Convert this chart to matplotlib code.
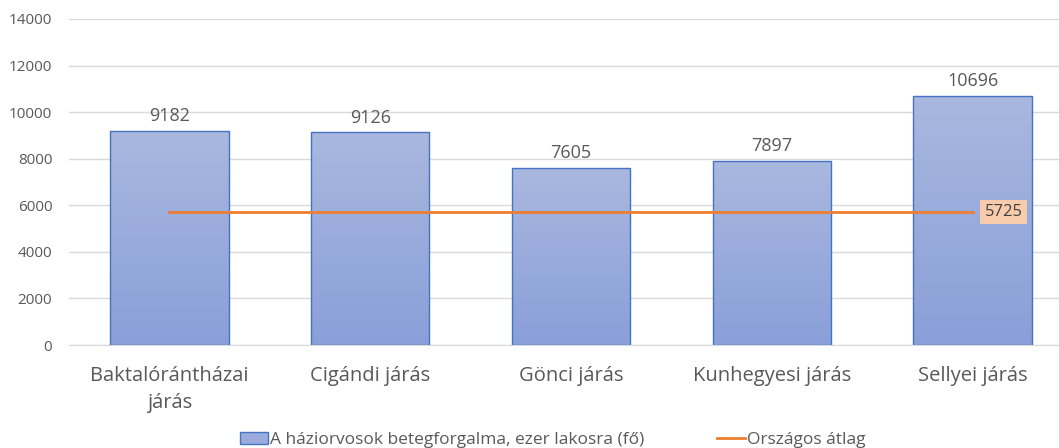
import numpy as np
import matplotlib.pyplot as plt
from matplotlib.patches import Patch
from matplotlib.lines import Line2D
from matplotlib.colors import LinearSegmentedColormap
from matplotlib.transforms import offset_copy

plt.rcParams['font.family'] = ['Open Sans', 'DejaVu Sans']

categories = ['Baktalórántházai\njárás', 'Cigándi járás', 'Gönci járás',
              'Kunhegyesi járás', 'Sellyei járás']
values = [9182, 9126, 7605, 7897, 10696]
avg = 5725
bar_label = 'A háziorvosok betegforgalma, ezer lakosra (fő)'
line_label = 'Országos átlag'

fig = plt.figure(figsize=[10.59, 4.48], dpi=100)
ax = fig.add_axes([69/1059, 1-345/448, (1073-69)/1059, (345-19)/448])

x = np.arange(len(categories))
bars = ax.bar(x, values, width=0.59, color='none', edgecolor='#4472c4', linewidth=1, zorder=3)

# vertical gradient fill inside each bar
grad = np.linspace(0, 1, 256).reshape(-1, 1)
cmap = LinearSegmentedColormap.from_list('g', ['#8a9fd9', '#a9b8df'])
for b in bars:
    im = ax.imshow(grad, cmap=cmap, origin='lower', aspect='auto',
                   extent=[b.get_x(), b.get_x() + b.get_width(), 0, b.get_height()], zorder=2)
    im.set_clip_path(b)

for a, v in zip(x, values):
    ax.text(a, v + 250, '%d' % v, ha='center', va='bottom', fontsize=13, color='#595959')

ax.plot([x[0], x[-1]], [avg, avg], color='#ed7d31', linewidth=2, zorder=4)
tr = offset_copy(ax.transData, fig=fig, x=12, y=0, units='dots')
ax.text(x[-1], avg, str(avg), ha='left', va='center', fontsize=12, color='#404040', zorder=5,
        transform=tr, bbox=dict(boxstyle='square,pad=0.25', fc='#f8cbad', ec='none'))

ax.set_xlim(-0.5, len(categories) - 0.5)
ax.set_ylim(0, 14000)
ax.set_yticks(range(0, 14001, 2000))
ax.set_xticks(x)
ax.set_xticklabels(categories, fontsize=14.5, color='#595959', linespacing=1.45)
ax.tick_params(axis='y', labelsize=11, colors='#595959', length=0, pad=12)
ax.tick_params(axis='x', length=0, pad=15)
ax.grid(axis='y', color='#d9d9d9', linewidth=1, zorder=0)
for s in ['top', 'right', 'left']:
    ax.spines[s].set_visible(False)
ax.spines['bottom'].set_color('#d9d9d9')

handles = [Patch(facecolor='#9aabdc', edgecolor='#4472c4', label=bar_label),
           Line2D([0], [0], color='#ed7d31', linewidth=2, label=line_label)]
fig.legend(handles=handles, loc='lower center', bbox_to_anchor=(0.522, -0.035), ncol=2, frameon=False,
           fontsize=12.5, labelcolor='#595959', handlelength=1.6, handletextpad=0.1, columnspacing=4.2)

fig.savefig('out.png', dpi=100)
